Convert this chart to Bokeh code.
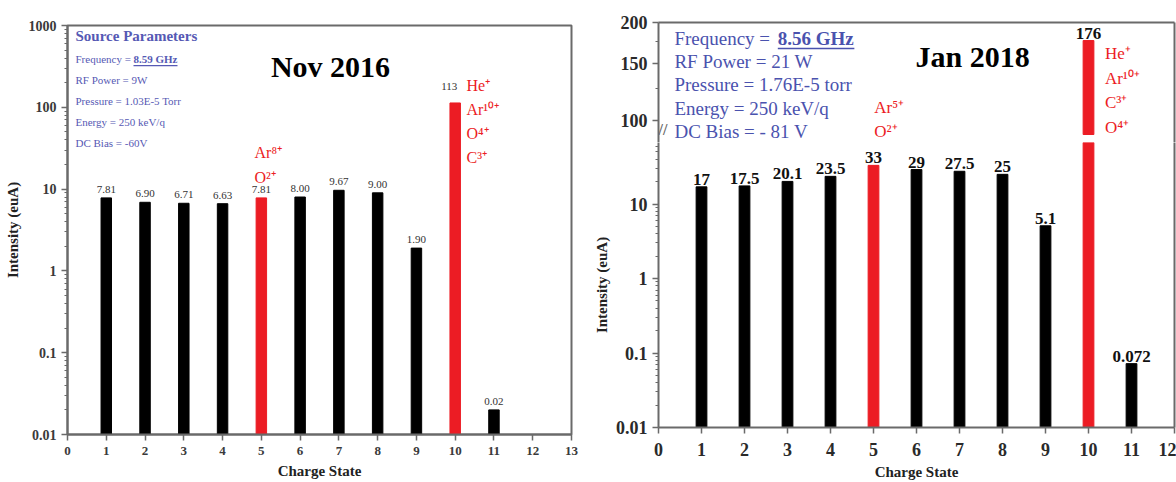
import math
from bokeh.plotting import figure
from bokeh.layouts import row, column
from bokeh.models import (FixedTicker, CustomJSTickFormatter, Label, LabelSet,
                          LinearAxis, LogAxis, Range1d, ColumnDataSource, BoxAnnotation)
from bokeh.embed import file_html
from bokeh.resources import INLINE

# ---------------- data ----------------
charge_states = [1, 2, 3, 4, 5, 6, 7, 8, 9, 10, 11]
nov2016_intensity = [7.81, 6.90, 6.71, 6.63, 7.81, 8.00, 9.67, 9.00, 1.90, 113, 0.02]
nov2016_labels = ["7.81", "6.90", "6.71", "6.63", "7.81", "8.00", "9.67", "9.00", "1.90", "113", "0.02"]
jan2018_intensity = [17, 17.5, 20.1, 23.5, 33, 29, 27.5, 25, 5.1, 176, 0.072]
jan2018_labels = ["17", "17.5", "20.1", "23.5", "33", "29", "27.5", "25", "5.1", "176", "0.072"]
mixed_states = [5, 10]          # charge states where several ions overlap (red bars)
nov_x_ticks = list(range(0, 14))
jan_x_ticks = list(range(0, 13))
log_major_ticks = [0.01, 0.1, 1, 10, 100, 1000]
upper_major_ticks = [100, 150, 200]
upper_minor_ticks = [125, 175]
nov_params = ["RF Power = 9W", "Pressure = 1.03E-5 Torr", "Energy = 250 keV/q", "DC Bias  = -60V"]
jan_params = ["RF Power = 21 W", "Pressure = 1.76E-5 torr", "Energy = 250 keV/q", "DC Bias = - 81 V"]
nov_freq = "8.59 GHz"
jan_freq = "8.56 GHz"
ions_5_nov = ["Ar\u2078\u207a", "O\u00b2\u207a"]
ions_10_nov = ["He\u207a", "Ar\u00b9\u2070\u207a", "O\u2074\u207a", "C\u00b3\u207a"]
ions_5_jan = ["Ar\u2075\u207a", "O\u00b2\u207a"]
ions_10_jan = ["He\u207a", "Ar\u00b9\u2070\u207a", "C\u00b3\u207a", "O\u2074\u207a"]

log_minor_ticks = [m * 10 ** e for e in range(-2, 3) for m in range(2, 10)]

# ---------------- style ----------------
FONT = "Liberation Serif"
RED = "#ec1c24"
BLUE_L = "#5659b4"
BLUE_R = "#4a52ae"
AX = "#6a6a6a"
fmt = CustomJSTickFormatter(code="return tick.toString();")


def style_axis(ax, size, color):
    ax.axis_line_color = AX
    ax.axis_line_width = 2
    ax.major_tick_line_color = AX
    ax.major_tick_line_width = 1.5
    ax.minor_tick_line_color = AX
    ax.minor_tick_line_width = 1.2
    ax.major_tick_out = 6
    ax.major_tick_in = 0
    ax.minor_tick_out = 3
    ax.minor_tick_in = 0
    ax.major_label_text_font = FONT
    ax.major_label_text_font_size = size
    ax.major_label_text_font_style = "bold"
    ax.major_label_text_color = color
    ax.axis_label_text_font = FONT
    ax.axis_label_text_font_style = "bold"
    ax.axis_label_text_color = "#222222"


def border_axis(p, side, log=False):
    A = LogAxis if log else LinearAxis
    ax = A(ticker=FixedTicker(ticks=[]), major_tick_out=0, major_tick_in=0,
           minor_tick_out=0, minor_tick_in=0, major_label_standoff=0,
           major_label_text_font_size="0px", axis_line_color=AX, axis_line_width=2)
    p.add_layout(ax, side)


def add_text(p, x, y, text, size, color, style="normal", align="left"):
    p.add_layout(Label(x=x, y=y, text=text, text_font=FONT, text_font_size=size,
                       text_color=color, text_font_style=style, text_align=align,
                       text_baseline="middle"))


colors = [RED if c in mixed_states else "black" for c in charge_states]

# =============== LEFT PANEL: Nov 2016 ===============
L_X0, L_PX, L_TOP, L_DEC = 67, 38.77, 25, 81.8


def lx(px):
    return (px - L_X0) / L_PX


def ly(py):
    return 10 ** (3 - (py - L_TOP) / L_DEC)


p1 = figure(width=590, height=482, x_range=Range1d(0, 13), y_range=Range1d(0.01, 1000),
            y_axis_type="log", output_backend="svg", toolbar_location=None,
            min_border_left=67, min_border_right=19, min_border_top=25, min_border_bottom=48)
p1.grid.visible = False
p1.outline_line_color = AX
p1.outline_line_width = 2
p1.outline_line_alpha = 1

src1 = ColumnDataSource(dict(x=charge_states, top=nov2016_intensity, color=colors))
p1.vbar(x="x", top="top", bottom=0.01, width=0.27, color="color", source=src1)

lab1_idx = [i for i, c in enumerate(charge_states) if c != 10]
src1l = ColumnDataSource(dict(x=[charge_states[i] for i in lab1_idx],
                              y=[nov2016_intensity[i] for i in lab1_idx],
                              t=[nov2016_labels[i] for i in lab1_idx]))
p1.add_layout(LabelSet(x="x", y="y", text="t", source=src1l, y_offset=5,
                       text_font=FONT, text_font_size="11px", text_align="center",
                       text_baseline="bottom", text_color="#333333"))
i10 = charge_states.index(10)
p1.add_layout(Label(x=10, y=nov2016_intensity[i10], text=nov2016_labels[i10], x_offset=-6,
                    y_offset=13, text_font=FONT, text_font_size="11px", text_align="center",
                    text_baseline="bottom", text_color="#333333"))

p1.xaxis.ticker = FixedTicker(ticks=nov_x_ticks)
p1.yaxis.ticker = FixedTicker(ticks=log_major_ticks, minor_ticks=log_minor_ticks)
p1.yaxis.formatter = fmt
style_axis(p1.xaxis[0], "13px", "#3a3a3a")
style_axis(p1.yaxis[0], "14px", "#3a3a3a")
p1.xaxis.minor_tick_line_color = None
p1.xaxis.major_label_standoff = 6
p1.xaxis.axis_label = "Charge State"
p1.xaxis.axis_label_text_font_size = "15px"
p1.yaxis.axis_label = "Intensity (euA)"
p1.yaxis.axis_label_text_font_size = "15px"

add_text(p1, lx(75), ly(35), "Source Parameters", "15px", BLUE_L, "bold")
add_text(p1, lx(75), ly(58), "Frequency = ", "11px", BLUE_L)
add_text(p1, lx(133), ly(58), nov_freq, "11px", BLUE_L, "bold")
p1.add_layout(BoxAnnotation(left=lx(133), right=lx(177), top=ly(64.5), bottom=ly(65.7),
                            fill_color=BLUE_L, fill_alpha=1, line_color=None))
for k, t in enumerate(nov_params):
    add_text(p1, lx(75), ly(79 + 21 * k), t, "11px", BLUE_L)
add_text(p1, lx(330), ly(66), "Nov 2016", "30px", "black", "bold", "center")
for k, t in enumerate(ions_5_nov):
    add_text(p1, lx(254), ly(152 + 25 * k), t, "16px", RED)
for k, t in enumerate(ions_10_nov):
    add_text(p1, lx(466), ly(85 + 24 * k), t, "16px", RED)

# =============== RIGHT PANEL: Jan 2018 (broken log axis) ===============
R_X0, R_PX = 655, 43.25
U_TOP, U_BOT, U_HI = 22, 142, 200
U_DEC = 324.8                      # px per decade, upper segment
U_LO = 10 ** (math.log10(U_HI) - (U_BOT - U_TOP) / U_DEC)
U_BREAK = 10 ** (math.log10(U_HI) - (134 - U_TOP) / U_DEC)   # where the upper segment starts
LOW_BOTTOM_PX, LOW_DEC = 427, 74.5
LOW_HI = 10 ** (-2 + (LOW_BOTTOM_PX - U_BOT) / LOW_DEC)


def rx(px):
    return (px - R_X0) / R_PX


def ruy(py):
    return 10 ** (math.log10(U_HI) - (py - U_TOP) / U_DEC)


xr = Range1d(0, 12)
p2u = figure(width=586, height=U_BOT, x_range=xr, y_range=Range1d(U_LO, U_HI),
             y_axis_type="log", x_axis_location=None, output_backend="svg",
             toolbar_location=None, min_border_left=65, min_border_right=2,
             min_border_top=U_TOP, min_border_bottom=0)
p2l = figure(width=586, height=482 - U_BOT, x_range=xr, y_range=Range1d(0.01, LOW_HI),
             y_axis_type="log", output_backend="svg", toolbar_location=None,
             min_border_left=65, min_border_right=2, min_border_top=0, min_border_bottom=55)
for p in (p2u, p2l):
    p.grid.visible = False
    p.outline_line_color = None
    border_axis(p, "right", log=True)
    p.yaxis[0].formatter = fmt
    style_axis(p.yaxis[0], "18px", "#2a2a2a")
border_axis(p2u, "above")

# bars: lower segment shows every bar from the base, upper segment only the tall ones
src_lo = ColumnDataSource(dict(x=charge_states, top=jan2018_intensity, color=colors))
p2l.vbar(x="x", top="top", bottom=0.01, width=0.25, color="color", source=src_lo)
tall = [i for i, v in enumerate(jan2018_intensity) if v > U_BREAK]
src_up = ColumnDataSource(dict(x=[charge_states[i] for i in tall],
                               top=[jan2018_intensity[i] for i in tall],
                               color=[colors[i] for i in tall]))
p2u.vbar(x="x", top="top", bottom=U_BREAK, width=0.25, color="color", source=src_up)

p2u.yaxis[0].ticker = FixedTicker(ticks=upper_major_ticks, minor_ticks=upper_minor_ticks)
p2l.yaxis[0].ticker = FixedTicker(ticks=log_major_ticks, minor_ticks=log_minor_ticks)
p2l.xaxis.ticker = FixedTicker(ticks=jan_x_ticks)
style_axis(p2l.xaxis[0], "18px", "#2a2a2a")
p2l.xaxis.minor_tick_line_color = None
p2l.xaxis.major_label_standoff = 9
p2l.xaxis.axis_label = "Charge State"
p2l.xaxis.axis_label_text_font_size = "15px"
p2l.yaxis[0].axis_label = "Intensity (euA)"
p2l.yaxis[0].axis_label_text_font_size = "15px"
p2l.yaxis[0].axis_label_standoff = 3

# value labels
lo_idx = [i for i, v in enumerate(jan2018_intensity) if v <= LOW_HI]
for p, idx in ((p2u, tall), (p2l, lo_idx)):
    s = ColumnDataSource(dict(x=[charge_states[i] for i in idx],
                              y=[jan2018_intensity[i] for i in idx],
                              t=[jan2018_labels[i] for i in idx]))
    p.add_layout(LabelSet(x="x", y="y", text="t", source=s, y_offset=2,
                          text_font=FONT, text_font_size="17px", text_font_style="bold",
                          text_align="center", text_baseline="bottom", text_color="#111111"))

add_text(p2u, rx(671), ruy(38), "Frequency = ", "19px", BLUE_R)
add_text(p2u, rx(775), ruy(38), jan_freq, "19px", BLUE_R, "bold")
p2u.add_layout(BoxAnnotation(left=rx(775), right=rx(852), top=ruy(47.2), bottom=ruy(48.8),
                             fill_color=BLUE_R, fill_alpha=1, line_color=None))
for k, t in enumerate(jan_params):
    add_text(p2u, rx(671), ruy(61 + 23.3 * k), t, "19px", BLUE_R)
add_text(p2u, rx(971), ruy(56), "Jan 2018", "30px", "black", "bold", "center")
for k, t in enumerate(ions_5_jan):
    add_text(p2u, rx(872), ruy(107 + 24 * k), t, "17px", RED)
for k, t in enumerate(ions_10_jan):
    add_text(p2u, rx(1104), ruy(53 + 24.7 * k), t, "17px", RED)
# axis break mark
add_text(p2u, 0, ruy(129), "//", "16px", AX, "bold", "left")

layout = row(p1, column(p2u, p2l, spacing=0), spacing=0)
open("out.html", "w").write(file_html(layout, INLINE))
